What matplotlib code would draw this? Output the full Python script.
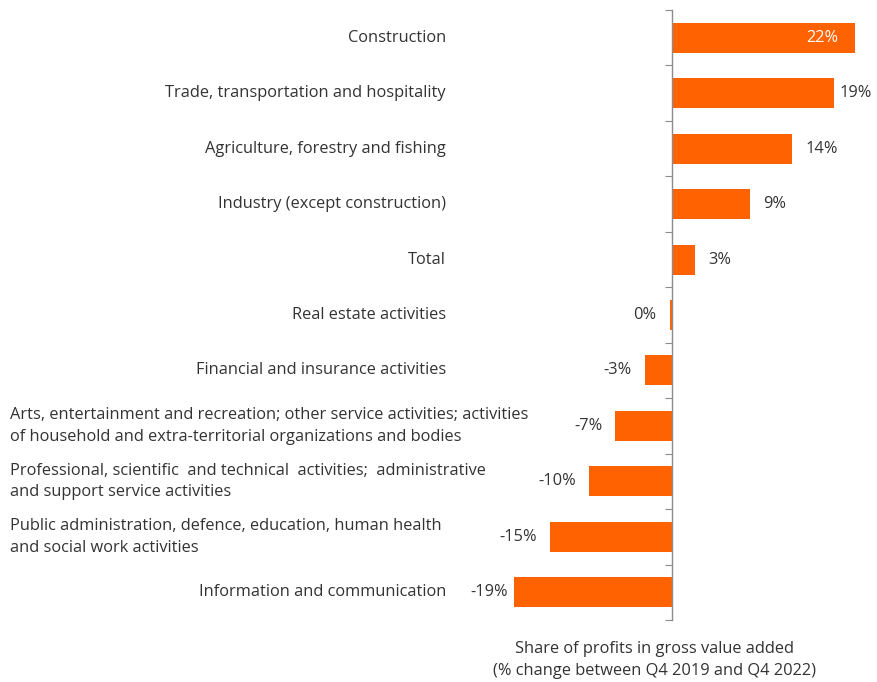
import matplotlib.pyplot as plt
import matplotlib.transforms as mtransforms

categories = [
    "Construction",
    "Trade, transportation and hospitality",
    "Agriculture, forestry and fishing",
    "Industry (except construction)",
    "Total",
    "Real estate activities",
    "Financial and insurance activities",
    "Arts, entertainment and recreation; other service activities; activities\nof household and extra-territorial organizations and bodies",
    "Professional, scientific  and technical  activities;  administrative\nand support service activities",
    "Public administration, defence, education, human health\nand social work activities",
    "Information and communication",
]
values = [22.0, 19.4, 14.45, 9.4, 2.8, -0.3, -3.3, -6.8, -10.0, -14.7, -19.0]
labels = ["22%", "19%", "14%", "9%", "3%", "0%", "-3%", "-7%", "-10%", "-15%", "-19%"]

orange = "#FF6200"
text_col = "#333333"
fs = 11.8
plt.rcParams['font.family'] = ['Open Sans', 'DejaVu Sans']

W, H = 878, 682
fig = plt.figure(figsize=(W / 100, H / 100), dpi=100)

x0_px = 672        # zero line
px_per = 8.33      # pixels per percentage point
xmin, xmax = -21, 24
left = x0_px + xmin * px_per
top_px, bot_px = 10, 620
ax = fig.add_axes([left / W, (H - bot_px) / H, (xmax - xmin) * px_per / W,
                   (bot_px - top_px) / H])

n = len(categories)
ypos = list(range(n))
ax.barh(ypos, values, height=0.54, color=orange)
ax.set_xlim(xmin, xmax)
ax.set_ylim(n - 0.5, -0.5)

for s in ["top", "right", "bottom"]:
    ax.spines[s].set_visible(False)
ax.spines["left"].set_position(("data", 0))
ax.spines["left"].set_color("#8c8c8c")
ax.spines["left"].set_linewidth(1.0)
ax.set_xticks([])
ax.set_yticks([i - 0.5 for i in range(n + 1)])
ax.set_yticklabels([])
ax.tick_params(axis="y", length=5, color="#8c8c8c", direction="out")

# value labels
for i, (v, lab) in enumerate(zip(values, labels)):
    off = 6 if abs(v) > 18 else 13
    if i == 0:
        ax.annotate(lab, (v, i), xytext=(-17, 0), textcoords="offset pixels",
                    ha="right", va="center", color="white", fontsize=fs)
    elif v >= 0:
        ax.annotate(lab, (v, i), xytext=(off, 0), textcoords="offset pixels",
                    ha="left", va="center", color=text_col, fontsize=fs)
    else:
        ax.annotate(lab, (v, i), xytext=(-off, 0), textcoords="offset pixels",
                    ha="right", va="center", color=text_col, fontsize=fs)

# category labels
trans = mtransforms.blended_transform_factory(fig.transFigure, ax.transData)
for i, cat in enumerate(categories):
    if "\n" in cat:
        ax.text(10 / W, i, cat, transform=trans, ha="left", va="center",
                color=text_col, fontsize=fs, linespacing=1.45)
    else:
        ax.text(446 / W, i, cat, transform=trans, ha="right", va="center",
                color=text_col, fontsize=fs)

fig.text(655 / W, (H - 660) / H,
         "Share of profits in gross value added\n(% change between Q4 2019 and Q4 2022)",
         ha="center", va="center", color=text_col, fontsize=fs, linespacing=1.45)

fig.savefig("out.png", dpi=100)
